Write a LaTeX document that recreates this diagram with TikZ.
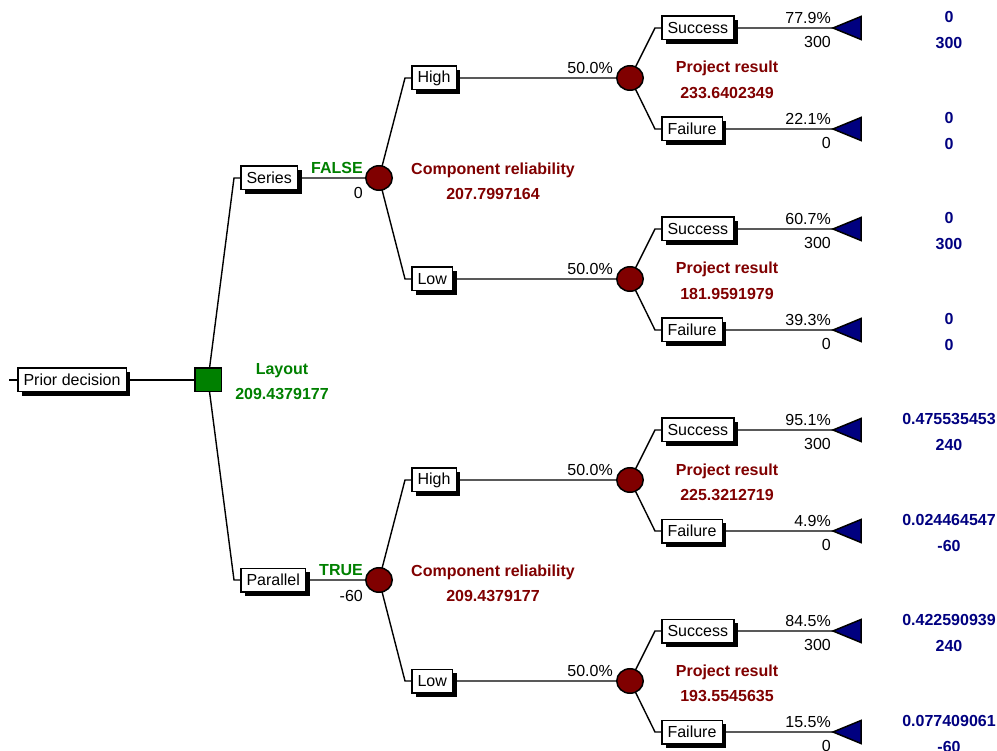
\documentclass[tikz,border=0pt]{standalone}
\usepackage{fontspec}
\setmainfont{Liberation Sans}
\usepackage{xcolor}
\usetikzlibrary{shapes.geometric,shadows,backgrounds}
\definecolor{decgreen}{HTML}{008000}
\definecolor{chred}{HTML}{800000}
\definecolor{endblue}{HTML}{000080}
\begin{document}
\begin{tikzpicture}[
  x=1pt,y=-1pt,
  font=\fontsize{16}{19}\selectfont,
  br/.style={line width=1.4pt},
  brbox/.style={draw,line width=1.5pt,fill=white,anchor=west,inner xsep=5.8pt,inner ysep=0pt,minimum height=23.5pt,
    drop shadow={shadow xshift=4pt,shadow yshift=-4pt,fill=black,opacity=1}},
  decnode/.style={draw,line width=1.5pt,fill=decgreen,minimum width=26.5pt,minimum height=23.5pt,inner sep=0pt},
  chnode/.style={draw,ellipse,line width=1.5pt,fill=chred,minimum width=26.5pt,minimum height=24.5pt,inner sep=0pt},
  lbl/.style={inner sep=0pt,text height=11.5pt,text depth=3.4pt},
  declbl/.style={lbl,text=decgreen,font=\fontsize{16}{19}\selectfont\bfseries},
  chlbl/.style={lbl,text=chred,font=\fontsize{16}{19}\selectfont\bfseries},
  endlbl/.style={lbl,text=endblue,font=\fontsize{16}{19}\selectfont\bfseries},
  val/.style={lbl,anchor=east},
  endtri/.pic={\draw[line width=1.5pt,fill=endblue] (0,0) -- (28,-11.5) -- (28,11.5) -- cycle;}
]
\useasboundingbox (0,0) rectangle (997,751);
% root
\coordinate (stub) at (9,380);
\node[brbox] (prior) at (17,380) {Prior decision};
\node[decnode] (lay) at (208,380) {};
\node[declbl] (layT) at (282,370) {Layout};
\node[declbl] (layV) at (282,395) {209.4379177};
% layout branches
\node[brbox] (ser) at (240,178) {Series};
\node[brbox] (par) at (240,580) {Parallel};
\node[declbl,anchor=east] (serT) at (363,169) {FALSE};
\node[val] (serV) at (363,194) {0};
\node[declbl,anchor=east] (parT) at (363,571) {TRUE};
\node[val] (parV) at (363,597) {-60};
\node[chnode] (crS) at (379,178) {};
\node[chnode] (crP) at (379,580) {};
\node[chlbl] (crST) at (493,170) {Component reliability};
\node[chlbl] (crSV) at (493,195) {207.7997164};
\node[chlbl] (crPT) at (493,572) {Component reliability};
\node[chlbl] (crPV) at (493,597) {209.4379177};
% reliability branches
\node[brbox] (hiS) at (411,78) {High};
\node[brbox] (loS) at (411,279) {Low};
\node[brbox] (hiP) at (411,480) {High};
\node[brbox] (loP) at (411,681) {Low};
\node[val] (hiSP) at (613,69) {50.0\%};
\node[val] (loSP) at (613,270) {50.0\%};
\node[val] (hiPP) at (613,471) {50.0\%};
\node[val] (loPP) at (613,672) {50.0\%};
\node[chnode] (prSH) at (630,78) {};
\node[chnode] (prSL) at (630,279) {};
\node[chnode] (prPH) at (630,480) {};
\node[chnode] (prPL) at (630,681) {};
\node[chlbl] (prSHT) at (727,68) {Project result};
\node[chlbl] (prSHV) at (727,94) {233.6402349};
\node[chlbl] (prSLT) at (727,269) {Project result};
\node[chlbl] (prSLV) at (727,295) {181.9591979};
\node[chlbl] (prPHT) at (727,471) {Project result};
\node[chlbl] (prPHV) at (727,496) {225.3212719};
\node[chlbl] (prPLT) at (727,672) {Project result};
\node[chlbl] (prPLV) at (727,697) {193.5545635};
% outcomes
\node[brbox] (sSH) at (661,28) {Success};
\node[brbox] (fSH) at (661,129) {Failure};
\node[brbox] (sSL) at (661,229) {Success};
\node[brbox] (fSL) at (661,330) {Failure};
\node[brbox] (sPH) at (661,430) {Success};
\node[brbox] (fPH) at (661,531) {Failure};
\node[brbox] (sPL) at (661,631) {Success};
\node[brbox] (fPL) at (661,732) {Failure};
\node[val] at (831,19) {77.9\%};   \node[val] at (831,43) {300};
\node[val] at (831,120) {22.1\%};  \node[val] at (831,144) {0};
\node[val] at (831,220) {60.7\%};  \node[val] at (831,244) {300};
\node[val] at (831,321) {39.3\%};  \node[val] at (831,345) {0};
\node[val] at (831,421) {95.1\%};  \node[val] at (831,445) {300};
\node[val] at (831,522) {4.9\%};   \node[val] at (831,546) {0};
\node[val] at (831,622) {84.5\%};  \node[val] at (831,646) {300};
\node[val] at (831,723) {15.5\%};  \node[val] at (831,747) {0};
% end nodes
\coordinate (tsSH) at (833,28);
\coordinate (tfSH) at (833,129);
\coordinate (tsSL) at (833,229);
\coordinate (tfSL) at (833,330);
\coordinate (tsPH) at (833,430);
\coordinate (tfPH) at (833,531);
\coordinate (tsPL) at (833,631);
\coordinate (tfPL) at (833,732);
\pic at (tsSH) {endtri}; \pic at (tfSH) {endtri};
\pic at (tsSL) {endtri}; \pic at (tfSL) {endtri};
\pic at (tsPH) {endtri}; \pic at (tfPH) {endtri};
\pic at (tsPL) {endtri}; \pic at (tfPL) {endtri};
\node[endlbl] at (949,18) {0};           \node[endlbl] at (949,44) {300};
\node[endlbl] at (949,119) {0};          \node[endlbl] at (949,145) {0};
\node[endlbl] at (949,219) {0};          \node[endlbl] at (949,245) {300};
\node[endlbl] at (949,320) {0};          \node[endlbl] at (949,346) {0};
\node[endlbl] at (949,420) {0.475535453}; \node[endlbl] at (949,446) {240};
\node[endlbl] at (949,521) {0.024464547}; \node[endlbl] at (949,547) {-60};
\node[endlbl] at (949,621) {0.422590939}; \node[endlbl] at (949,647) {240};
\node[endlbl] at (949,722) {0.077409061}; \node[endlbl] at (949,748) {-60};
% branches
\begin{scope}[on background layer]
\draw[br] (stub) -- (lay.center);
\draw[br] (lay.center) -- ([xshift=-6pt]ser.west) -- (crS.center);
\draw[br] (lay.center) -- ([xshift=-6pt]par.west) -- (crP.center);
\draw[br] (crS.center) -- ([xshift=-6pt]hiS.west) -- (prSH.center);
\draw[br] (crS.center) -- ([xshift=-6pt]loS.west) -- (prSL.center);
\draw[br] (crP.center) -- ([xshift=-6pt]hiP.west) -- (prPH.center);
\draw[br] (crP.center) -- ([xshift=-6pt]loP.west) -- (prPL.center);
\draw[br] (prSH.center) -- ([xshift=-6pt]sSH.west) -- (tsSH);
\draw[br] (prSH.center) -- ([xshift=-6pt]fSH.west) -- (tfSH);
\draw[br] (prSL.center) -- ([xshift=-6pt]sSL.west) -- (tsSL);
\draw[br] (prSL.center) -- ([xshift=-6pt]fSL.west) -- (tfSL);
\draw[br] (prPH.center) -- ([xshift=-6pt]sPH.west) -- (tsPH);
\draw[br] (prPH.center) -- ([xshift=-6pt]fPH.west) -- (tfPH);
\draw[br] (prPL.center) -- ([xshift=-6pt]sPL.west) -- (tsPL);
\draw[br] (prPL.center) -- ([xshift=-6pt]fPL.west) -- (tfPL);
\end{scope}
\end{tikzpicture}
\end{document}
